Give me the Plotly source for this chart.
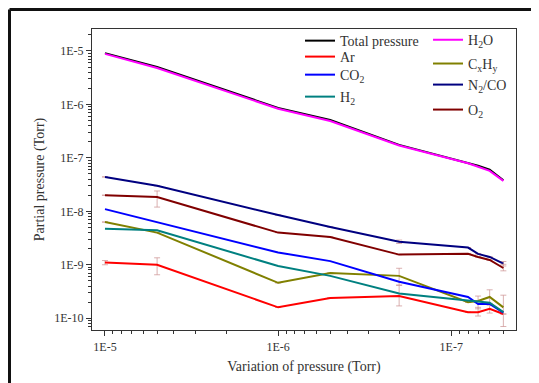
import plotly.graph_objects as go

# x: variation of pressure (Torr)
x_pressure = [1e-5, 5e-6, 1e-6, 5e-7, 2e-7, 8e-8, 7e-8, 6e-8, 5e-8]

total_pressure = [9.1e-6, 5.0e-6, 8.6e-7, 5.1e-7, 1.75e-7, 8.2e-8, 7.1e-8, 6.0e-8, 3.8e-8]
h2o = [8.8e-6, 4.8e-6, 8.3e-7, 4.9e-7, 1.7e-7, 7.9e-8, 6.8e-8, 5.7e-8, 3.7e-8]
ar = [1.1e-9, 1.0e-9, 1.6e-10, 2.4e-10, 2.6e-10, 1.3e-10, 1.3e-10, 1.5e-10, 1.2e-10]
cxhy = [6.3e-9, 4.0e-9, 4.6e-10, 7.0e-10, 6.2e-10, 2.0e-10, 2.1e-10, 2.5e-10, 1.6e-10]
co2 = [1.1e-8, 6.3e-9, 1.7e-9, 1.17e-9, 4.8e-10, 2.5e-10, 1.85e-10, 1.85e-10, 1.27e-10]
n2co = [4.4e-8, 3.0e-8, 8.5e-9, 5.1e-9, 2.7e-9, 2.1e-9, 1.6e-9, 1.4e-9, 1.05e-9]
h2 = [4.7e-9, 4.4e-9, 9.5e-10, 6.2e-10, 2.9e-10, 2.1e-10, 2.0e-10, 1.95e-10, 1.3e-10]
o2 = [2.0e-8, 1.85e-8, 4.0e-9, 3.3e-9, 1.55e-9, 1.6e-9, 1.4e-9, 1.23e-9, 8.7e-10]

# error bars (plus / minus), None = no bar
ar_err_plus = [0.1e-9, 0.35e-9, None, None, 1.5e-10, None, 0.3e-10, 0.25e-10, None]
ar_err_minus = [0.1e-9, 0.35e-9, None, None, 0.9e-10, None, 0.2e-10, 0.25e-10, None]
cxhy_err_plus = [None, None, None, None, 2.4e-10, None, 0.5e-10, 0.9e-10, 1.1e-10]
cxhy_err_minus = [None, None, None, None, 2.0e-10, None, 0.6e-10, 0.6e-10, 0.9e-10]
o2_err_plus = [None, 0.55e-8, None, None, None, None, None, None, 0.15e-9]
o2_err_minus = [None, 0.65e-8, None, None, None, None, None, None, 0.1e-9]
n2co_err_plus = [None, None, None, None, 0.2e-9, None, None, None, 0.1e-9]
n2co_err_minus = [None, None, None, None, 0.2e-9, None, None, None, 0.1e-9]

x_tickvals = [1e-5, 1e-6, 1e-7]
x_ticktext = ["1E-5", "1E-6", "1E-7"]
y_tickvals = [1e-5, 1e-6, 1e-7, 1e-8, 1e-9, 1e-10]
y_ticktext = ["1E-5", "1E-6", "1E-7", "1E-8", "1E-9", "1E-10"]

err_color = "rgba(205,150,150,0.75)"


def err(plus, minus):
    if plus is None:
        return None
    return dict(type="data", symmetric=False, array=plus, arrayminus=minus,
                color=err_color, thickness=1, width=3)


# name, values, colour, legend id, error bars, legend x (paper), legend y (paper)
series = [
    ("Total pressure", total_pressure, "#000000", "legend", None, 0.4906, 0.960),
    ("H<sub>2</sub>O", h2o, "#ff00ff", "legend2", None, 0.7925, 0.963),
    ("Ar", ar, "#ff0000", "legend3", err(ar_err_plus, ar_err_minus), 0.4906, 0.907),
    ("C<sub>x</sub>H<sub>y</sub>", cxhy, "#808000", "legend4", err(cxhy_err_plus, cxhy_err_minus), 0.7925, 0.884),
    ("CO<sub>2</sub>", co2, "#0000ff", "legend5", None, 0.4906, 0.847),
    ("N<sub>2</sub>/CO", n2co, "#000080", "legend6", err(n2co_err_plus, n2co_err_minus), 0.7925, 0.814),
    ("H<sub>2</sub>", h2, "#008080", "legend7", None, 0.4906, 0.774),
    ("O<sub>2</sub>", o2, "#800000", "legend8", err(o2_err_plus, o2_err_minus), 0.7925, 0.731),
]

font_family = "Liberation Serif"
fig = go.Figure()
legend_layouts = {}
for name, vals, color, lg, e, lx, ly in series:
    kw = {}
    if e is not None:
        kw["error_y"] = e
    fig.add_trace(go.Scatter(x=x_pressure, y=vals, mode="lines", name=name,
                             line=dict(color=color, width=2), legend=lg, **kw))
    legend_layouts[lg] = dict(x=lx, y=ly, xanchor="left", yanchor="middle",
                              bgcolor="rgba(0,0,0,0)",
                              font=dict(family=font_family, size=14, color="#333"))

# page has an 8px body margin: figure is drawn 8px shifted
W, H = 531, 375
L, R, T, B = 84, 23, 21, 53

axis_common = dict(type="log", showline=True, mirror=True, linecolor="#333",
                   linewidth=1.2, ticks="outside", ticklen=5, tickwidth=1.2,
                   tickcolor="#333", showgrid=False, zeroline=False,
                   tickfont=dict(family=font_family, size=12, color="#333"),
                   minor=dict(ticks="outside", ticklen=3, tickcolor="#333",
                              dtick="D1", showgrid=False))

fig.update_layout(
    width=W, height=H,
    margin=dict(l=L, r=R, t=T, b=B),
    paper_bgcolor="white", plot_bgcolor="white",
    font=dict(family=font_family, color="#333"),
    xaxis=dict(range=[-4.925, -7.374], tickvals=x_tickvals, ticktext=x_ticktext,
               title=dict(text="Variation of pressure (Torr)",
                          font=dict(family=font_family, size=14, color="#333"),
                          standoff=8),
               **axis_common),
    yaxis=dict(range=[-10.22, -4.59], tickvals=y_tickvals, ticktext=y_ticktext,
               title=dict(text="Partial pressure (Torr)",
                          font=dict(family=font_family, size=14, color="#333"),
                          standoff=6),
               **axis_common),
    showlegend=True,
    **legend_layouts,
)

# outer frame lines of the figure image
px = lambda v: (v - L) / (W - L - R)
py = lambda v: (H - B - v) / (H - T - B)
fig.add_shape(type="line", xref="paper", yref="paper", x0=px(1.5), x1=px(545), y0=py(1.5), y1=py(1.5),
              line=dict(color="#111", width=3))
fig.add_shape(type="line", xref="paper", yref="paper", x0=px(1.5), x1=px(1.5), y0=py(1.5), y1=py(400),
              line=dict(color="#111", width=3))

fig.write_html("out.html")
